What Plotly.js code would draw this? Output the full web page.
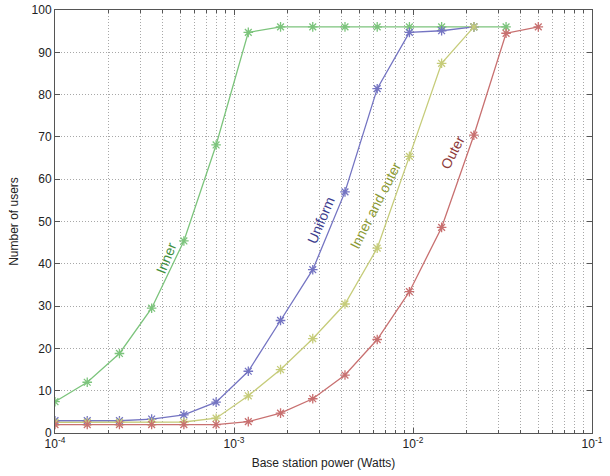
<!DOCTYPE html>
<html>
<head>
<meta charset="utf-8">
<script src="https://cdn.plot.ly/plotly-3.0.1.min.js"></script>
<style>html,body{margin:0;padding:0;background:#fff;}#chart{width:610px;height:476px;}</style>
</head>
<body>
<div id="chart"></div>
<script>
const power = [1.0e-4, 1.514e-4, 2.291e-4, 3.467e-4, 5.248e-4, 7.943e-4, 1.202e-3, 1.820e-3,
               2.754e-3, 4.169e-3, 6.310e-3, 9.550e-3, 1.445e-2, 2.188e-2, 3.311e-2, 5.012e-2];
const innerUsers   = [7.4, 12.0, 18.8, 29.5, 45.4, 68.1, 94.7, 96.0, 96.0, 96.0, 96.0, 96.0, 96.0, 96.0, 96.0];
const uniformUsers = [2.9, 2.9, 2.9, 3.3, 4.3, 7.3, 14.6, 26.6, 38.6, 57.0, 81.4, 94.7, 95.1, 96.0];
const bothUsers    = [2.5, 2.5, 2.5, 2.5, 2.6, 3.5, 8.8, 15.0, 22.3, 30.5, 43.7, 65.4, 87.4, 96.0];
const outerUsers   = [2.0, 2.0, 2.0, 2.0, 2.0, 2.0, 2.7, 4.7, 8.1, 13.7, 22.1, 33.4, 48.6, 70.4, 94.5, 96.0];
const xTickVals = [1e-4, 1e-3, 1e-2, 1e-1];
const xTickText = ['10<sup>-4</sup>', '10<sup>-3</sup>', '10<sup>-2</sup>', '10<sup>-1</sup>'];
const labels = ['Inner', 'Uniform', 'Inner and outer', 'Outer'];

function series(y, color) {
  return {
    x: power.slice(0, y.length), y: y, type: 'scatter', mode: 'lines+markers',
    line: {color: color, width: 1.3},
    marker: {symbol: 'asterisk-open', size: 8, color: color, line: {color: color, width: 1.3}},
    showlegend: false, hoverinfo: 'x+y'
  };
}
const data = [
  series(innerUsers, '#7cc47c'),
  series(uniformUsers, '#7474c2'),
  series(bothUsers, '#c6cc7a'),
  series(outerUsers, '#c87070')
];
const gridCol = '#a8a8a8';
const gDash = '1px,2px';
function ann(text, x, y, ang, color) {
  return {text: text, xref: 'paper', yref: 'paper', x: x, y: y, xanchor: 'center', yanchor: 'middle',
          showarrow: false, textangle: ang, font: {size: 14, color: color}};
}
const layout = {
  width: 610, height: 476,
  margin: {l: 55, r: 18, t: 10, b: 43},
  paper_bgcolor: '#fff', plot_bgcolor: '#fff',
  font: {family: 'Liberation Sans, Arial, sans-serif', size: 12, color: '#222'},
  xaxis: {
    type: 'log', range: [-4, -1],
    tickvals: xTickVals, ticktext: xTickText,
    ticks: 'inside', ticklen: 5, tickcolor: '#555',
    showline: true, linecolor: '#555', linewidth: 1, mirror: 'ticks',
    showgrid: true, gridcolor: gridCol, griddash: gDash, gridwidth: 1,
    minor: {dtick: 'D1', showgrid: true, gridcolor: gridCol, griddash: gDash, gridwidth: 1, ticks: 'inside', ticklen: 3, tickcolor: '#555'},
    zeroline: false,
    tickfont: {size: 12},
    title: {text: 'Base station power (Watts)', font: {size: 12}, standoff: 8}
  },
  yaxis: {
    range: [0, 100], dtick: 10,
    ticks: 'inside', ticklen: 5, tickcolor: '#555',
    showline: true, linecolor: '#555', linewidth: 1, mirror: 'ticks',
    showgrid: true, gridcolor: gridCol, griddash: gDash, gridwidth: 1,
    zeroline: false,
    tickfont: {size: 12},
    title: {text: 'Number of users', font: {size: 12}, standoff: 10}
  },
  annotations: [
    ann(labels[0], 0.207, 0.414, -68, '#3f8f3f'),
    ann(labels[1], 0.495, 0.504, -67, '#3c3c8e'),
    ann(labels[2], 0.596, 0.537, -63, '#8c9a34'),
    ann(labels[3], 0.741, 0.664, -63, '#8e3a3a')
  ]
};
Plotly.newPlot('chart', data, layout, {displayModeBar: false, staticPlot: true});
</script>
</body>
</html>
